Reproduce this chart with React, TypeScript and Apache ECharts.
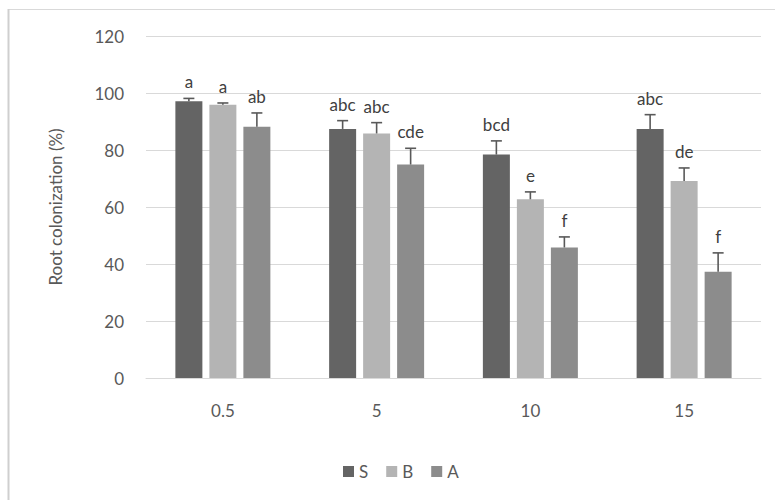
import React, { useEffect, useRef } from "react";
import * as echarts from "echarts";

const categories = ["0.5", "5", "10", "15"];
const seriesNames = ["S", "B", "A"];
const sValues = [97.1, 87.4, 78.4, 87.4];
const bValues = [95.9, 85.8, 62.7, 69.1];
const aValues = [88.2, 74.9, 45.8, 37.3];
const sErrors = [1.0, 2.9, 4.8, 5.0];
const bErrors = [0.6, 3.8, 2.6, 4.6];
const aErrors = [4.8, 5.7, 3.7, 6.6];
const sLetters = ["a", "abc", "bcd", "abc"];
const bLetters = ["a", "abc", "e", "de"];
const aLetters = ["ab", "cde", "f", "f"];
const yTicks = [0, 20, 40, 60, 80, 100, 120];

const colors = ["#646464", "#b4b4b4", "#8c8c8c"];
const FONT = "Lato, 'Open Sans', sans-serif";

export default function App() {
  const ref = useRef<HTMLDivElement>(null);
  useEffect(() => {
    document.body.style.margin = "0";
    if (!ref.current) return;
    const chart = echarts.init(ref.current, undefined, { renderer: "svg" });
    const values = [sValues, bValues, aValues];
    const errors = [sErrors, bErrors, aErrors];
    const letters = [sLetters, bLetters, aLetters];
    const barWidth = 27;
    const barGapPx = 7;

    const barSeries = seriesNames.map((name, si) => ({
      name,
      type: "bar",
      data: values[si],
      barWidth,
      barGap: (barGapPx / barWidth) * 100 + "%",
      itemStyle: { color: colors[si] },
      z: 2,
    }));

    const errSeries = seriesNames.map((name, si) => ({
      name: name + "_err",
      type: "custom",
      z: 3,
      data: values[si].map((v, i) => [i, v, errors[si][i]]),
      renderItem: (params: any, api: any) => {
        const cat = api.value(0);
        const val = api.value(1);
        const err = api.value(2);
        const base = api.coord([cat, val]);
        const top = api.coord([cat, val + err]);
        const x = base[0] + (si - 1) * (barWidth + barGapPx);
        const lineStyle = { stroke: "#595959", lineWidth: 1.6 };
        return {
          type: "group",
          children: [
            { type: "line", shape: { x1: x, y1: base[1], x2: x, y2: top[1] }, style: lineStyle },
            { type: "line", shape: { x1: x - 5.5, y1: top[1], x2: x + 5.5, y2: top[1] }, style: lineStyle },
            {
              type: "text",
              x,
              y: top[1] - 8,
              style: {
                text: letters[si][params.dataIndex],
                fill: "#404040",
                font: "17px " + FONT,
                textAlign: "center",
                textVerticalAlign: "bottom",
              },
            },
          ],
        };
      },
    }));

    chart.setOption({
      animation: false,
      backgroundColor: "#ffffff",
      textStyle: { fontFamily: FONT },
      grid: { left: 146, right: 14, top: 36, bottom: 122, containLabel: false },
      legend: {
        data: seriesNames,
        left: 338,
        top: 458,
        icon: "rect",
        itemWidth: 11,
        itemHeight: 11,
        itemGap: 18,
        textStyle: { color: "#595959", fontSize: 17, fontFamily: FONT },
      },
      xAxis: {
        type: "category",
        data: categories,
        axisLine: { lineStyle: { color: "#d9d9d9", width: 1 } },
        axisTick: { show: false },
        axisLabel: { color: "#595959", fontSize: 17, margin: 24, fontFamily: FONT },
      },
      yAxis: {
        type: "value",
        min: yTicks[0],
        max: yTicks[yTicks.length - 1],
        interval: yTicks[1] - yTicks[0],
        name: "Root colonization (%)",
        nameLocation: "middle",
        nameGap: 82,
        nameTextStyle: { color: "#595959", fontSize: 17, fontFamily: FONT },
        axisLine: { show: false },
        axisTick: { show: false },
        axisLabel: { color: "#595959", fontSize: 17, margin: 22, fontFamily: FONT },
        splitLine: { lineStyle: { color: "#d9d9d9", width: 1 } },
      },
      graphic: [
        { type: "line", shape: { x1: 8, y1: 9.5, x2: 775, y2: 9.5 }, style: { stroke: "#d9d9d9", lineWidth: 1 } },
        { type: "line", shape: { x1: 8.5, y1: 9, x2: 8.5, y2: 500 }, style: { stroke: "#cfcfcf", lineWidth: 2 } },
      ],
      series: [...barSeries, ...errSeries],
    });
    return () => chart.dispose();
  }, []);
  return <div ref={ref} style={{ width: 775, height: 500 }} />;
}
